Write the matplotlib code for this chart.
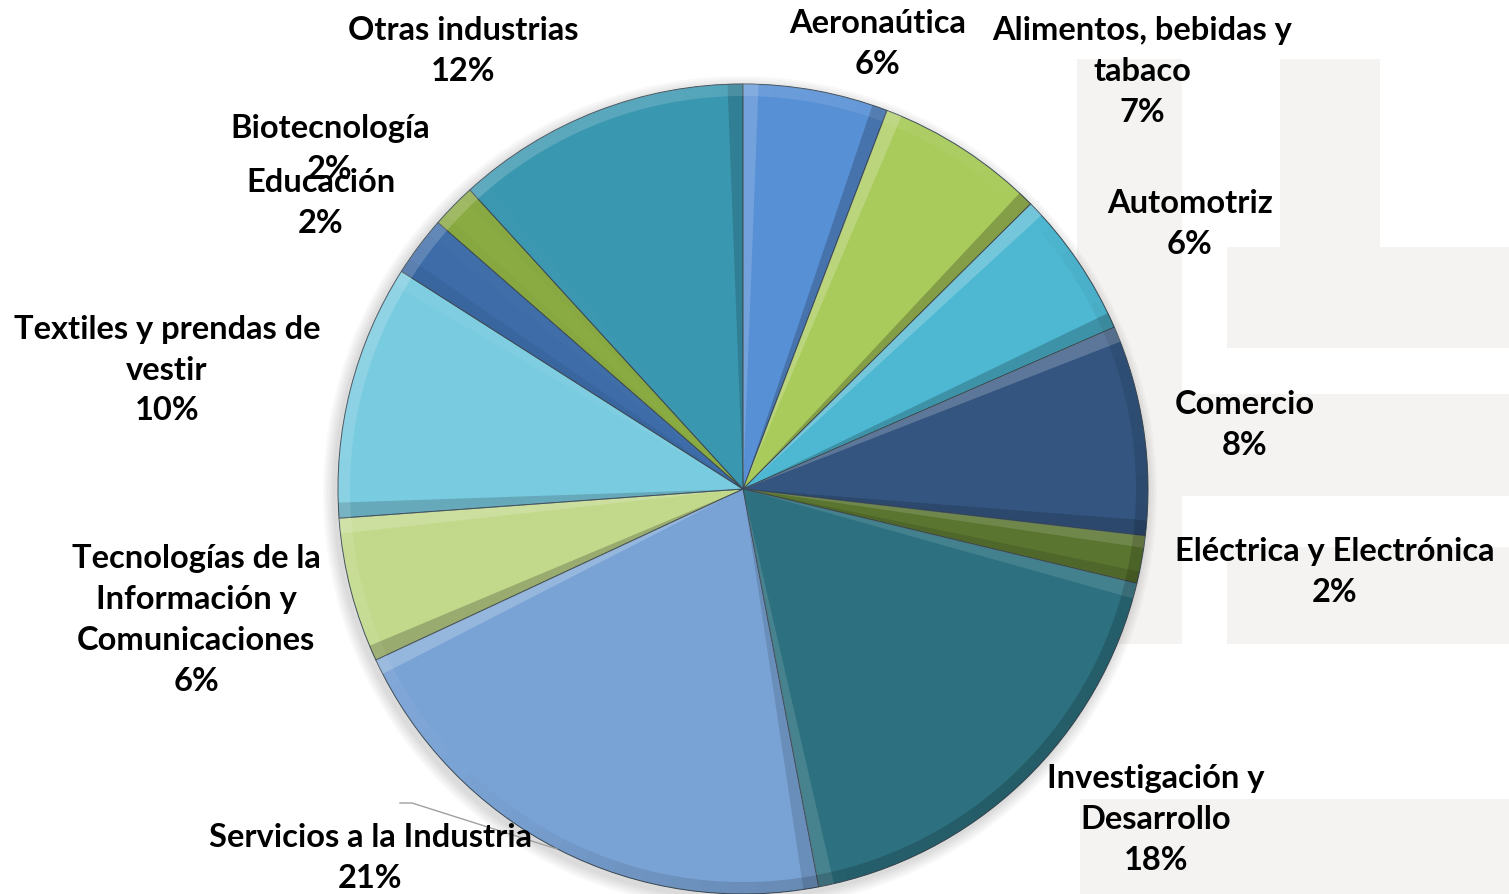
import numpy as np
import matplotlib.pyplot as plt
from matplotlib.patches import Rectangle, Wedge

# sectors clockwise from 12 o'clock
sectors = ['Aeronaútica', 'Alimentos, bebidas y\ntabaco', 'Automotriz', 'Comercio',
           'Eléctrica y Electrónica', 'Investigación y\nDesarrollo', 'Servicios a la Industria',
           'Tecnologías de la\nInformación y\nComunicaciones', 'Textiles y prendas de\nvestir',
           'Educación', 'Biotecnología', 'Otras industrias']
shares = [5.8, 6.8, 5.9, 8.4, 1.9, 18.3, 21.1, 5.8, 10.2, 2.4, 1.8, 11.8]
colors = ['#5890d6', '#a9cb5c', '#4eb8d2', '#33557f', '#5a7530', '#2d7180',
          '#7aa3d5', '#c2d98b', '#79cbe0', '#3d6ca8', '#8aaa42', '#3a97b0']

# label centres in pixels (x, y from top)
label_pos = [(878, 44), (1142, 71), (1190, 224), (1245, 425), (1335, 572), (1156, 820),
             (370, 858), (196, 620), (167, 370), (321, 203), (330, 149), (463, 51)]

W, H = 1509, 895
fig = plt.figure(figsize=(W / 100, H / 100), dpi=100)
ax = fig.add_axes([0, 0, 1, 1])

# faint watermark in the background
wm = '#f4f3f2'
for x0, y0, x1, y1 in [(1077, 60, 1182, 645), (1280, 60, 1380, 248), (1227, 248, 1509, 349),
                       (1182, 395, 1509, 497), (1227, 548, 1509, 645), (1080, 800, 1509, 895)]:
    ax.add_patch(Rectangle((x0, H - y1), x1 - x0, y1 - y0, color=wm, lw=0, zorder=0))

cx, cy, r = 743, H - 490, 405
# soft shadow
for k in range(6):
    ax.add_patch(Wedge((cx - 3, cy - 4), r + 2 + k * 2, 0, 360, color='black', alpha=0.025, lw=0, zorder=1))

wedges, _ = ax.pie(shares, colors=colors, startangle=90, counterclock=False,
                   center=(cx, cy), radius=r,
                   wedgeprops=dict(edgecolor='#3b4a55', linewidth=0.7))

light = 135  # light from upper left


def shade(normal_deg, a1, a2, width=None, strength=0.22):
    s = np.cos(np.radians(normal_deg - light))
    col = 'white' if s > 0 else 'black'
    ax.add_patch(Wedge((cx, cy), r, a1, a2, width=width, color=col,
                       alpha=abs(s) * strength, lw=0, zorder=3))


# bevel shading on each slice
for w in wedges:
    t1, t2 = w.theta1, w.theta2
    hl = min(2.2, (t2 - t1) * 0.25)
    shade(t2 + 90, t2 - hl, t2)
    shade(t1 - 90, t1, t1 + hl)
    segs = np.linspace(t1, t2, max(2, int((t2 - t1) / 4) + 1))
    for a1, a2 in zip(segs[:-1], segs[1:]):
        shade((a1 + a2) / 2, a1, a2, width=12, strength=0.18)

for name, v, (x, y) in zip(sectors, shares, label_pos):
    ax.text(x, H - y, f'{name}\n{round(v)}%', ha='center', va='center', fontsize=23.5,
            fontweight='bold', family='Lato', linespacing=1.5, zorder=5)

# leader line for Servicios a la Industria
ax.plot([400, 412, 557], [H - 804, H - 804, H - 850], color='#a0a0a0', lw=1, zorder=4)

ax.set_xlim(0, W)
ax.set_ylim(0, H)
ax.set_aspect('equal')
ax.axis('off')
fig.savefig('out.png', dpi=100, facecolor='white')
